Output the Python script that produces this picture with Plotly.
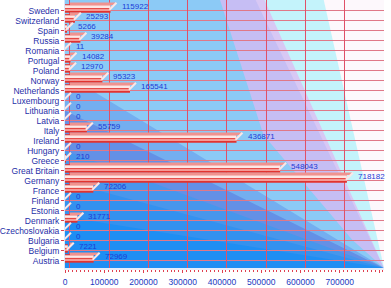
import math
import plotly.graph_objects as go

# ---------------- data ----------------
countries = ["Austria", "Belgium", "Bulgaria", "Czechoslovakia", "Denmark", "Estonia",
             "Finland", "France", "Germany", "Great Britain", "Greece", "Hungary",
             "Ireland", "Italy", "Latvia", "Lithuania", "Luxembourg", "Netherlands",
             "Norway", "Poland", "Portugal", "Romania", "Russia", "Spain",
             "Switzerland", "Sweden"]
values = [72969, 7221, 0, 0, 31771, 0,
          0, 72206, 718182, 548043, 210, 0,
          436871, 55759, 0, 0, 0, 165541,
          95323, 12970, 14082, 11, 39284, 5266,
          25293, 115922]
tick_vals = [0, 100000, 200000, 300000, 400000, 500000, 600000, 700000, 800000]
tick_text = ["0", "100000", "200000", "300000", "400000", "500000", "600000", "700000", "800000"]

# ---------------- layout geometry (style) ----------------
W, H = 391, 288
ML, MR, MT, MB = 61, 7, 0, 20
PW, PH = W - ML - MR, H - MT - MB
XMAX = 800000
px_per_unit = 318 / XMAX          # 800000 lands 5px before right edge (3D wall depth)
x_hi = PW / px_per_unit
depth = 5 / px_per_unit
idx = list(range(len(countries)))
y_lo, y_hi = -0.73, -0.73 + PH / 10.0

FONT = "Liberation Sans"

fig = go.Figure()

# bar front face (cylinder look)
fig.add_trace(go.Bar(x=values, y=idx, orientation="h", width=0.85, offset=-0.2,
                     marker=dict(color="#e2332f", line=dict(width=0)), hoverinfo="skip"))
fig.add_trace(go.Bar(x=values, y=idx, orientation="h", width=0.16, offset=0.03,
                     marker=dict(color="#f49a96", line=dict(width=0)), hoverinfo="skip"))
fig.add_trace(go.Bar(x=values, y=idx, orientation="h", width=0.26, offset=0.28,
                     marker=dict(color="#fde6e4", line=dict(width=0)), hoverinfo="skip"))
# bar top face, drawn on the depth-shifted axis
fig.add_trace(go.Bar(x=values, y=idx, orientation="h", width=0.17, offset=0.65,
                     marker=dict(color="#f0938f", line=dict(width=0)),
                     xaxis="x2", yaxis="y", hoverinfo="skip"))
# end caps
fig.add_trace(go.Scatter(x=values, y=[i + 0.45 for i in idx], mode="markers",
                         marker=dict(symbol="line-ne", size=7,
                                     line=dict(color="#fbe6e6", width=2)),
                         xaxis="x3", yaxis="y", hoverinfo="skip", showlegend=False))

# value labels
for v, i in zip(values, idx):
    fig.add_annotation(x=v, y=i, text=str(v), showarrow=False, xanchor="left",
                       xshift=9, yshift=4, font=dict(family=FONT, size=8, color="#1c3cd6"))

# ---------------- background fan from bottom-right corner ----------------
CX, CY = ML + PW, MT + PH


def to_paper(p):
    return ((p[0] - ML) / PW, (CY - p[1]) / PH)


def left_pt(deg):
    return (ML, CY - PW * math.tan(math.radians(deg)))


bounds = [
    (None, "#1f8ef3"),
    ([left_pt(9)], "#3491ef"),
    ([left_pt(15)], "#4896ec"),
    ([left_pt(20)], "#6490e6"),
    ([left_pt(26)], "#74aef0"),
    ([left_pt(31)], "#8ccaf6"),
    ([(218, MT), (262, 135), (352, 240)], "#c6bef4"),
    ([(254, MT)], "#d8c8f4"),
    ([(263, MT)], "#c4f3fb"),
    ([(323, MT)], "#fdf8fc"),
]

for pts, col in bounds:
    if pts is None:
        poly = [(0, 0), (1, 0), (1, 1), (0, 1)]
    else:
        pp = [to_paper(p) for p in pts]
        poly = pp + [(1.0, 0.0), (1.0, 1.0)]
        if pp[0][0] <= 1e-6:      # starts on left edge
            poly.append((0.0, 1.0))
    path = "M " + " L ".join(f"{x:.5f},{y:.5f}" for x, y in poly) + " Z"
    fig.add_shape(type="path", path=path, xref="paper", yref="paper",
                  fillcolor=col, line=dict(width=0), layer="below")

fig.update_layout(
    width=W, height=H, margin=dict(l=ML, r=MR, t=MT, b=MB),
    paper_bgcolor="white", plot_bgcolor="rgba(0,0,0,0)",
    barmode="overlay", showlegend=False,
    xaxis=dict(range=[0, x_hi], tickvals=tick_vals, ticktext=tick_text,
               showgrid=False, zeroline=False, showline=True, linecolor="#e6eefc", linewidth=2,
               ticks="outside", ticklen=3, tickcolor="#e04050", ticklabelstandoff=2,
               minor=dict(dtick=10000, ticks="outside", ticklen=2, tickcolor="#e04050"),
               tickfont=dict(family=FONT, size=8.5, color="#1a38c0")),
    xaxis2=dict(range=[-depth, x_hi - depth], overlaying="x", anchor="y",
                showgrid=True, gridcolor="#e05068", gridwidth=1, dtick=100000, tick0=0,
                showticklabels=False, ticks="", zeroline=False, showline=False),
    xaxis3=dict(range=[-depth / 2, x_hi - depth / 2], overlaying="x", anchor="y",
                showgrid=False, showticklabels=False, ticks="", zeroline=False, showline=False),
    yaxis=dict(range=[y_lo, y_hi], tickvals=idx, ticktext=countries,
               showgrid=True, gridcolor="#e07888", gridwidth=1, zeroline=False,
               showline=True, linecolor="#d8e4f8", linewidth=1,
               ticks="outside", ticklen=3, tickcolor="#e04050",
               tickfont=dict(family=FONT, size=8.5, color="#1f2fa8")),
)

fig.write_html("out.html")
